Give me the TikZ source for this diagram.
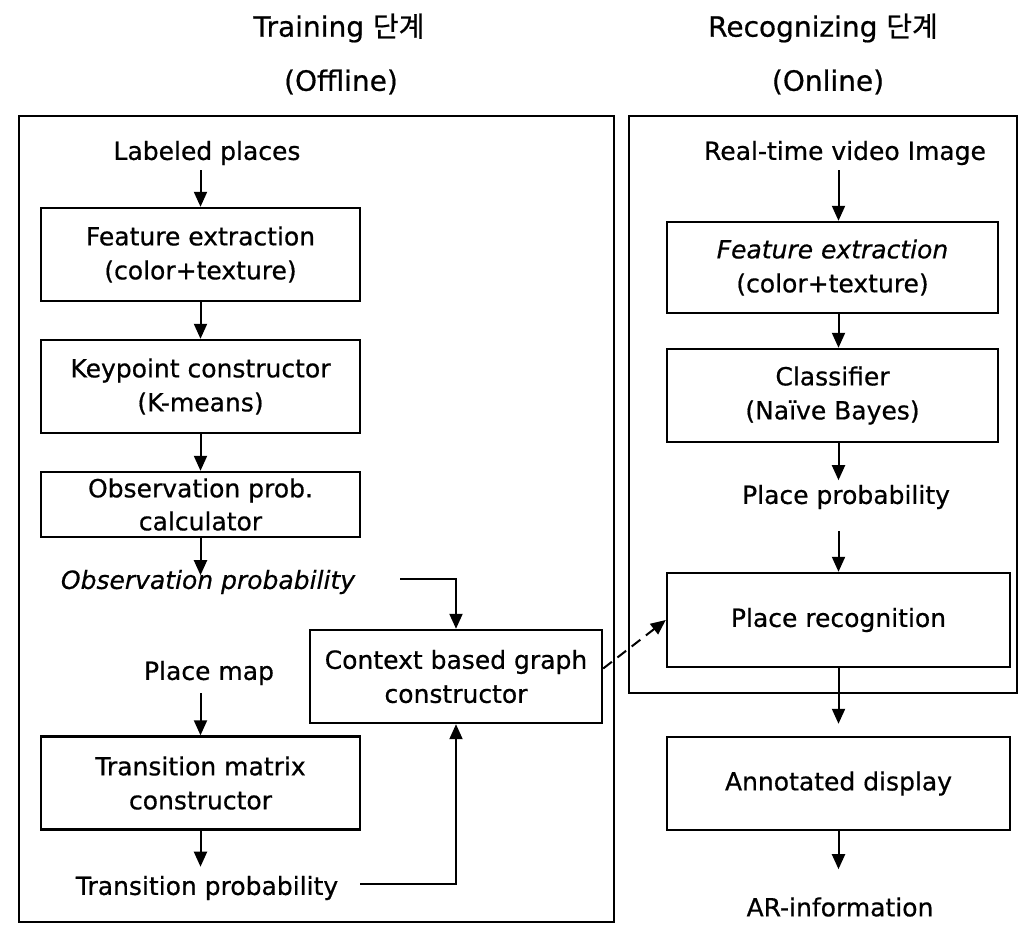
\documentclass[tikz,border=0pt]{standalone}
\usepackage{fontspec}
\setmainfont{DejaVu Sans}[FakeBold=0.6]
\newfontfamily\kr{Noto Sans CJK KR}[FakeBold=0.6]
\usetikzlibrary{arrows.meta,calc}
\begin{document}
\begin{tikzpicture}[x=1pt,y=-1pt,
  every node/.style={font=\fontsize{25}{34}\selectfont},
  title/.style={inner sep=0pt,font=\fontsize{28}{34}\selectfont},
  box/.style={draw,line width=2.4pt,inner sep=0pt,align=center,minimum width=319pt,minimum height=93pt},
  lbl/.style={inner sep=0pt,align=center},
  arr/.style={line width=2pt,-{Triangle[length=15pt,width=13pt]}},
  frame/.style={draw,line width=2.4pt}]
\useasboundingbox (0,0) rectangle (1022,926);
% titles
\node[title] (t1) at (339,28) {Training {\kr 단계}};
\node[title] (t2) at (341,82) {(Offline)};
\node[title] (t3) at (823,28) {Recognizing {\kr 단계}};
\node[title] (t4) at (828,82) {(Online)};
% frames
\draw[frame] (19,116) rectangle (614,922);
\draw[frame] (629,116) rectangle (1017,693);
% left column
\node[lbl] (lp) at (207,153) {Labeled places};
\node[box] (fe1) at (200.5,254.5) {Feature extraction\\(color+texture)};
\node[box] (kp) at (200.5,386.5) {Keypoint constructor\\(K-means)};
\node[box,minimum height=65pt,font=\fontsize{25}{33}\selectfont] (oc) at (200.5,504.5) {Observation prob.\\calculator};
\node[lbl,font=\fontsize{25}{34}\selectfont\itshape] (ob) at (208,582) {Observation probability};
\node[lbl] (pm) at (209,673) {Place map};
\node[box] (tm) at (200.5,783) {Transition matrix\\constructor};
\node[lbl] (tp) at (207,888) {Transition probability};
\node[box,minimum width=292pt] (ctx) at (456,676.5) {Context based graph\\constructor};
\coordinate (obs) at (400,579);
\coordinate (tps) at (360,884);
% right column
\node[lbl] (rt) at (845,153) {Real-time video Image};
\node[box,minimum width=331pt,minimum height=91pt] (fe2) at (832.5,267.5) {{\itshape Feature extraction}\\(color+texture)};
\node[box,minimum width=331pt] (cl) at (832.5,395.5) {Classifier\\(Naïve Bayes)};
\node[lbl] (pp) at (846,497) {Place probability};
\node[box,minimum width=343pt,minimum height=94pt] (pr) at (838.5,620) {Place recognition};
\node[box,minimum width=343pt] (ad) at (838.5,783.5) {Annotated display};
\node[lbl] (ar) at (840,907) {AR-information};
% left arrows
\draw[arr] (lp.south -| fe1.north) ++(0,5) -- (fe1.north);
\draw[arr] (fe1.south) -- (kp.north);
\draw[arr] (kp.south) -- (oc.north);
\draw[arr] (oc.south) -- ($(oc.south)+(0,37)$);
\draw[arr] (pm.south -| tm.north) ++(0,8) -- (tm.north);
\draw[arr] (tm.south) -- ($(tm.south)+(0,36)$);
\draw[arr] (obs) -| (ctx.north);
\draw[arr] (tps) -| (ctx.south);
\draw[arr,dash pattern=on 11pt off 7pt] ([yshift=8pt]ctx.east) -- (pr.west);
% right arrows
\draw[arr] (rt.south -| pr.north) ++(0,5) -- (fe2.north -| pr.north);
\draw[arr] (fe2.south -| pr.north) -- (cl.north -| pr.north);
\draw[arr] (cl.south -| pr.north) -- ($(cl.south -| pr.north)+(0,37)$);
\draw[arr] (pp.south -| pr.north) ++(0,22) -- (pr.north);
\draw[arr,shorten >=12pt] (pr.south) -- (ad.north);
\draw[arr] (ad.south) -- ($(ad.south)+(0,38)$);
\end{tikzpicture}
\end{document}
